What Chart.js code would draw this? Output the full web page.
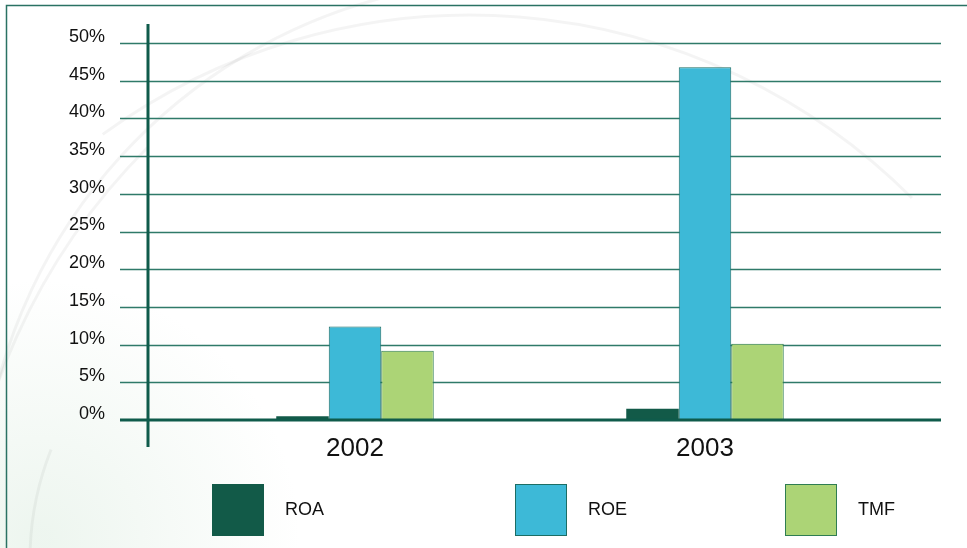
<!DOCTYPE html>
<html>
<head>
<meta charset="utf-8">
<script src="https://cdn.jsdelivr.net/npm/chart.js@4"></script>
<style>
  html, body { margin: 0; padding: 0; background: #ffffff; }
  #wrap { position: relative; width: 967px; height: 548px; }
</style>
</head>
<body>
<div id="wrap"><canvas id="ratioChart" width="967" height="548"></canvas></div>
<script>
// yearly ratios, in percent
var years = ["2002", "2003"];
var roaValues = [0.5, 1.5];
var roeValues = [12.4, 46.8];
var tmfValues = [9.2, 10.1];
var seriesNames = ["ROA", "ROE", "TMF"];
var yTicks = [0, 5, 10, 15, 20, 25, 30, 35, 40, 45, 50];

var darkGreen = "#125a48";
var blue = "#3db9d7";
var lightGreen = "#acd476";
var gridColor = "#2f7a69";
var axisColor = "#0f5b4b";
var fontFamily = "'Liberation Sans', Arial, sans-serif";

// faint swirls and the frame behind everything
var backdrop = {
  id: "backdrop",
  beforeDraw: function (chart) {
    var ctx = chart.ctx;
    ctx.save();
    ctx.fillStyle = "#ffffff";
    ctx.fillRect(0, 0, chart.width, chart.height);

    var g = ctx.createRadialGradient(40, 540, 10, 40, 540, 260);
    g.addColorStop(0, "rgba(205,228,210,0.35)");
    g.addColorStop(1, "rgba(205,228,210,0)");
    ctx.fillStyle = g;
    ctx.fillRect(0, 0, chart.width, chart.height);

    ctx.strokeStyle = "rgba(0,0,0,0.045)";
    ctx.lineWidth = 3;
    ctx.beginPath();
    ctx.arc(520, 520, 540, Math.PI * 1.05, Math.PI * 1.42);
    ctx.stroke();
    ctx.beginPath();
    ctx.arc(470, 640, 625, Math.PI * 1.3, Math.PI * 1.75);
    ctx.stroke();
    ctx.beginPath();
    ctx.arc(600, 600, 640, Math.PI * 1.02, Math.PI * 1.25);
    ctx.stroke();
    ctx.beginPath();
    ctx.arc(330, 560, 300, Math.PI * 0.98, Math.PI * 1.12);
    ctx.stroke();

    ctx.strokeStyle = "#2a7263";
    ctx.lineWidth = 1.5;
    ctx.beginPath();
    ctx.moveTo(6.5, chart.height);
    ctx.lineTo(6.5, 5.5);
    ctx.lineTo(chart.width, 5.5);
    ctx.stroke();
    ctx.restore();
  }
};

// horizontal grid that runs past the category area, plus the vertical axis
var gridAndAxis = {
  id: "gridAndAxis",
  beforeDatasetsDraw: function (chart) {
    var ctx = chart.ctx;
    var y = chart.scales.y;
    ctx.save();
    ctx.strokeStyle = gridColor;
    ctx.lineWidth = 1.5;
    y.ticks.forEach(function (t) {
      if (t.value === 0) return;
      var py = Math.round(y.getPixelForValue(t.value)) + 0.5;
      ctx.beginPath();
      ctx.moveTo(120, py);
      ctx.lineTo(941, py);
      ctx.stroke();
    });
    ctx.restore();
  },
  afterDatasetsDraw: function (chart) {
    var ctx = chart.ctx;
    var y = chart.scales.y;
    var base = y.getPixelForValue(0);
    ctx.save();
    ctx.strokeStyle = axisColor;
    ctx.lineWidth = 3;
    ctx.beginPath();
    ctx.moveTo(120, base);
    ctx.lineTo(941, base);
    ctx.stroke();
    ctx.beginPath();
    ctx.moveTo(148, 24);
    ctx.lineTo(148, 447);
    ctx.stroke();
    ctx.restore();
  }
};

// legend row along the bottom
var legendX = [212, 515, 785];
var bottomLegend = {
  id: "bottomLegend",
  afterDraw: function (chart) {
    var ctx = chart.ctx;
    ctx.save();
    chart.data.datasets.forEach(function (ds, i) {
      var x = legendX[i];
      ctx.fillStyle = ds.backgroundColor;
      ctx.fillRect(x, 484, 52, 52);
      if (ds.borderWidth) {
        ctx.strokeStyle = ds.borderColor;
        ctx.lineWidth = 1;
        ctx.strokeRect(x + 0.5, 484.5, 51, 51);
      }
      ctx.fillStyle = "#111111";
      ctx.font = "18px " + fontFamily;
      ctx.textBaseline = "middle";
      ctx.fillText(ds.label, x + 73, 510);
    });
    ctx.restore();
  }
};

var ctx = document.getElementById("ratioChart").getContext("2d");
var ratioChart = new Chart(ctx, {
  type: "bar",
  data: {
    labels: years,
    datasets: [
      {
        label: seriesNames[0],
        data: roaValues,
        backgroundColor: darkGreen,
        borderColor: darkGreen,
        borderWidth: 0
      },
      {
        label: seriesNames[1],
        data: roeValues,
        backgroundColor: blue,
        borderColor: "#1c6d64",
        borderWidth: 1
      },
      {
        label: seriesNames[2],
        data: tmfValues,
        backgroundColor: lightGreen,
        borderColor: "#2f7d52",
        borderWidth: 1
      }
    ]
  },
  options: {
    responsive: false,
    animation: false,
    layout: { padding: { top: 43, right: 87, bottom: 78, left: 0 } },
    categoryPercentage: 0.45,
    barPercentage: 1.0,
    plugins: {
      legend: { display: false },
      tooltip: { enabled: false }
    },
    scales: {
      x: {
        grid: { display: false, drawTicks: false },
        border: { display: false },
        ticks: {
          padding: 13,
          color: "#111111",
          font: { family: fontFamily, size: 26 }
        },
        afterFit: function (scale) { scale.height = 50; }
      },
      y: {
        min: 0,
        max: 50,
        afterBuildTicks: function (scale) {
          scale.ticks = yTicks.map(function (v) { return { value: v }; });
        },
        grid: { display: false, drawTicks: false },
        border: { display: false },
        ticks: {
          padding: 75,
          labelOffset: -6,
          color: "#111111",
          font: { family: fontFamily, size: 18 },
          callback: function (v) { return v + "%"; }
        },
        afterFit: function (scale) {
          // the wide label gap should not push the plot down
          scale.width = 180;
          scale.paddingTop = 10;
          scale.paddingBottom = 10;
        }
      }
    }
  },
  plugins: [backdrop, gridAndAxis, bottomLegend]
});
</script>
</body>
</html>
